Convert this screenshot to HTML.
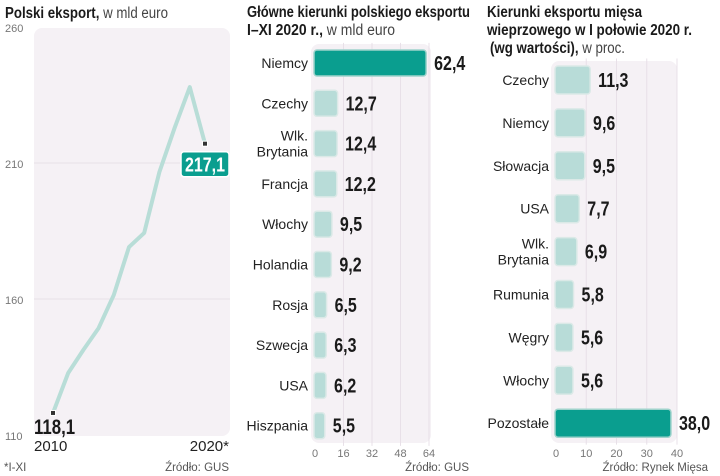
<!DOCTYPE html>
<html><head><meta charset="utf-8"><style>
body{margin:0;background:#fff;width:720px;height:476px;overflow:hidden;font-family:"Liberation Sans",sans-serif}
svg{display:block}
.t{font-weight:bold;font-size:15.5px;fill:#1a1a1a}
.tl{font-weight:normal;fill:#444}
.lab{font-size:14px;fill:#222}
.val{font-weight:bold;font-size:19px;fill:#1a1a1a}
.tick{font-size:11px;fill:#777}
.src{font-size:11.5px;fill:#555}
</style></head><body>
<svg id="c" width="720" height="476" viewBox="0 0 720 476" xmlns="http://www.w3.org/2000/svg">
<text class="t" x="5" y="18" textLength="163" lengthAdjust="spacingAndGlyphs">Polski eksport,<tspan class="tl"> w mld euro</tspan></text>
<rect x="34" y="28" width="196" height="408" rx="8" fill="#f5f1f5"/>
<text class="src" x="4" y="471">*I-XI</text>
<text class="src" x="229" y="471" text-anchor="end">Źródło: GUS</text>
<text class="t" x="247" y="17" textLength="223" lengthAdjust="spacingAndGlyphs">Główne kierunki polskiego eksportu</text>
<text class="t" x="247" y="35" textLength="148" lengthAdjust="spacingAndGlyphs">I–XI 2020 r.,<tspan class="tl"> w mld euro</tspan></text>
<rect x="311" y="44" width="120" height="399" rx="8" fill="#f5f1f5"/>
<text class="src" x="469" y="471" text-anchor="end">Źródło: GUS</text>
<text class="t" x="487" y="17" textLength="155" lengthAdjust="spacingAndGlyphs">Kierunki eksportu mięsa</text>
<text class="t" x="487" y="35" textLength="205" lengthAdjust="spacingAndGlyphs">wieprzowego w I połowie 2020 r.</text>
<text class="t" x="490" y="53" textLength="135" lengthAdjust="spacingAndGlyphs">(wg wartości),<tspan class="tl"> w proc.</tspan></text>
<rect x="551" y="61" width="126" height="382" rx="8" fill="#f5f1f5"/>
<text class="src" x="708" y="471" text-anchor="end">Źródło: Rynek Mięsa</text>
<g id="g"></g>
</svg>
<script>
const years=[2010,2011,2012,2013,2014,2015,2016,2017,2018,2019,2020];
const exportVals=[118.1,132.8,141.3,149.3,161.5,179.1,184.3,206.7,222.9,237.9,217.1];
const lineTicks=[110,160,210,260];
const cats1=["Niemcy","Czechy","Wlk.|Brytania","Francja","Włochy","Holandia","Rosja","Szwecja","USA","Hiszpania"];
const vals1=[62.4,12.7,12.4,12.2,9.5,9.2,6.5,6.3,6.2,5.5];
const ticks1=[0,16,32,48,64];
const cats2=["Czechy","Niemcy","Słowacja","USA","Wlk.|Brytania","Rumunia","Węgry","Włochy","Pozostałe"];
const vals2=[11.3,9.6,9.5,7.7,6.9,5.8,5.6,5.6,38.0];
const ticks2=[0,10,20,30,40];
const NS='http://www.w3.org/2000/svg',G=document.getElementById('g');
function el(t,a,txt){const e=document.createElementNS(NS,t);for(const k in a)e.setAttribute(k,a[k]);if(txt!=null)e.textContent=txt;G.appendChild(e);return e;}
function val(x,y,s,anchor,fill,size){const e=el('text',{x:0,y:0,class:'val',transform:'translate('+x+','+y+') scale(0.8,1)','text-anchor':anchor||'start',style:'font-size:'+(size||20)+'px;fill:'+(fill||'#1a1a1a')},s);return e;}
const fmt=v=>v.toFixed(1).replace('.',',');
const ly=v=>435-(v-110)*2.72, lx=i=>53+(i)*(205-53)/(years.length-1);
lineTicks.forEach(t=>{
 if(t>110&&t<260){const g=el('line',{x1:34,x2:230,y1:ly(t),y2:ly(t),stroke:'#e8e1e8','stroke-width':1});}
 const e=el('text',{x:5,y:ly(t)+5,class:'tick'},String(t));
 
 
});
const p=el('polyline',{points:exportVals.map((v,i)=>lx(i)+','+ly(v)).join(' '),fill:'none',stroke:'#b8ddd7','stroke-width':4,'stroke-linejoin':'round'});


[0,exportVals.length-1].forEach(i=>{const m=el('rect',{x:lx(i)-2.5,y:ly(exportVals[i])-2.5,width:5,height:5,fill:'#333',stroke:'#fff','stroke-width':1});
 
 });
const last=exportVals.length-1;
const bx=el('rect',{x:lx(last)-24,y:ly(exportVals[last])+8,width:48,height:25,rx:3,fill:'#0a9e8f',stroke:'#fff','stroke-width':1.5});


const bt=val(lx(last),ly(exportVals[last])+28,fmt(exportVals[last]),'middle','#fff',20);


const fv=val(34,ly(exportVals[0])+21,fmt(exportVals[0]),'start','#1a1a1a',21);


const y1=el('text',{x:34,y:451,style:'font-size:15px;fill:#222'},String(years[0]));


const y2=el('text',{x:229,y:451,'text-anchor':'end',style:'font-size:15px;fill:#222'},years[last]+'*');


function bars(cats,vals,ticks,x0,scale,yc0,step,h,prefix){
 ticks.forEach(t=>{
  const x=x0+t*scale;
  if(t>0){const g=el('line',{x1:x,x2:x,y1:yc0-step/2,y2:yc0+step*(cats.length-0.5),stroke:'#e8e0e8'});}
  const e=el('text',{x:x,y:457,class:'tick','text-anchor':'middle'},String(t));
  
  
 });
 const mx=Math.max(...vals);
 cats.forEach((c,i)=>{
  const yc=yc0+i*step,w=vals[i]*scale,big=vals[i]===mx;
  const r=el('rect',{x:x0-1,y:yc-h/2,width:w+1,height:h,rx:3,fill:big?'#0a9e8f':'#b8dcd8',stroke:big?'#9fd3cc':'#dbe9e7','stroke-width':1.5});
  
  
  const parts=c.split('|');
  parts.forEach((s,j)=>{const t=el('text',{x:x0-7,y:yc+5+(j-(parts.length-1)/2)*16,class:'lab','text-anchor':'end'},s);
   
   });
  const v=val(x0+w+8,yc+7,fmt(vals[i]));
  
  
 });
}
bars(cats1,vals1,ticks1,315,114/64,63,40.3,26,'bar1');
bars(cats2,vals2,ticks2,556,121/40,80,42.9,28,'bar2');
</script>
</body></html>
